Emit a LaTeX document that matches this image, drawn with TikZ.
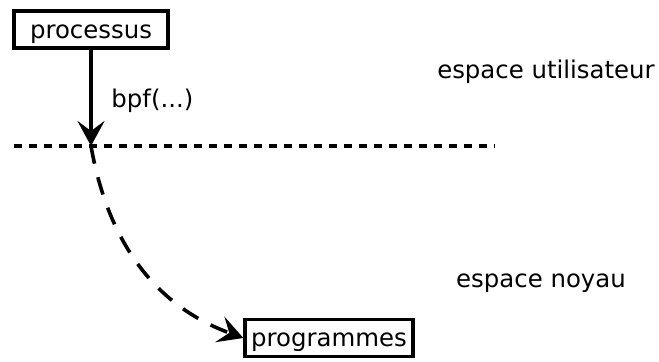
\documentclass[tikz,border=0pt]{standalone}
\usepackage{fontspec}
\setmainfont{DejaVu Sans}
\usetikzlibrary{arrows.meta,positioning}
\tikzstyle{boite}=[draw,line width=1.8pt,inner xsep=3pt,inner ysep=0pt,minimum height=18.5pt,text height=11pt,text depth=2.5pt]
\tikzstyle{fleche}=[line width=1.8pt,-{Stealth[length=12.5pt,width=13.5pt,inset=5pt]}]

\begin{document}
\begin{tikzpicture}[x=0.5pt,y=-0.5pt,font=\fontsize{12.2}{14}\selectfont]
      \useasboundingbox (0,0) rectangle (659,361);
      \node[boite, minimum width=77pt] at (91, 29.5) (proc) {processus};
			\node[boite] at (329, 338) (prog) {programmes};
			\node at (546, 72) (user) {espace utilisateur};
			\node at (541, 283) (noyau) {espace noyau};
			\coordinate (g) at (14, 146);
			\coordinate (d) at (495, 146);
			\coordinate (x) at (91, 146);

      % frontiere entre les deux espaces
      \draw[line width=1.8pt, dash pattern=on 4pt off 3.5pt] (g) -- (d);
			\draw[fleche] (proc) -- node[right=6pt, yshift=-1.5pt] {bpf(...)} (x);
			\draw[fleche, dash pattern=on 9pt off 7pt] (x) to[out=-80, in=160] (prog.west);
  	\end{tikzpicture}
\end{document}
